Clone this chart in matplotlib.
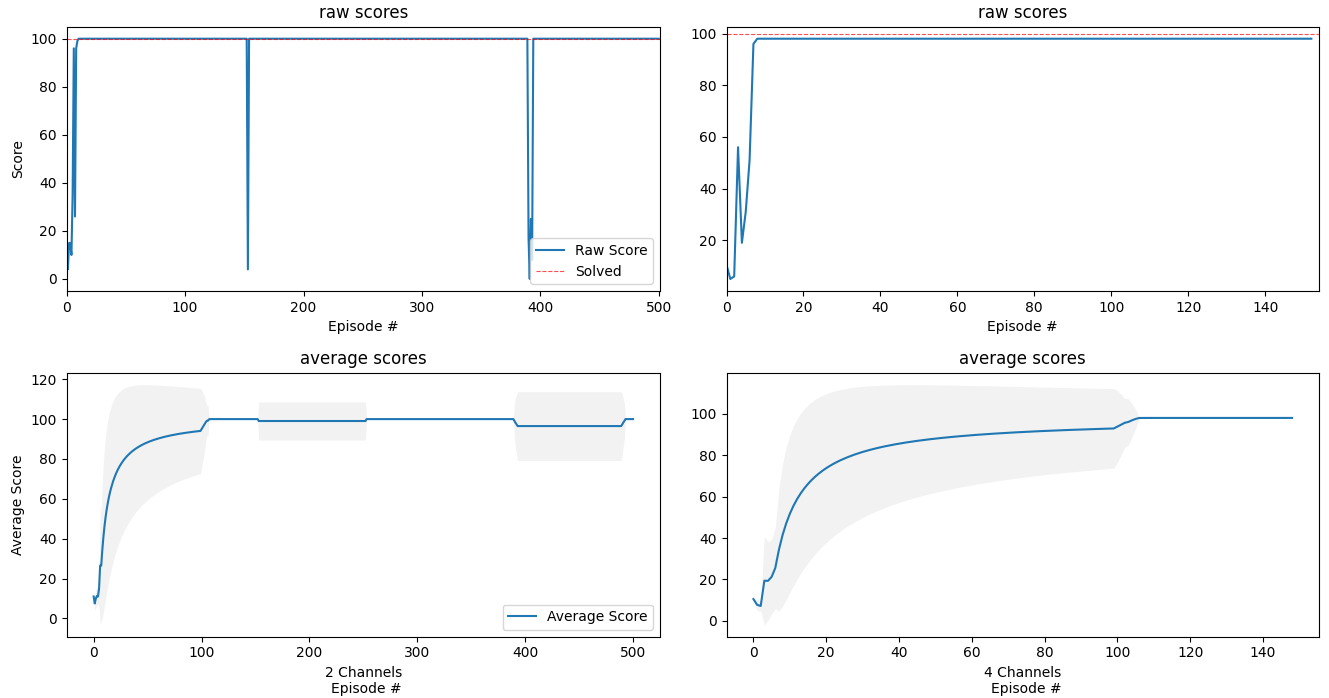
import numpy as np
import pandas as pd
import matplotlib
matplotlib.use("Agg")
import matplotlib.pyplot as plt

# ---------------- data ----------------
# 2-channel run: raw scores per episode (501 episodes, 0..500)
n_episodes_2ch = 501
early_scores_2ch = [11, 4, 15, 15, 10, 35, 96, 26, 96, 99]   # episodes 0..9
dip_episodes_2ch = [153, 390, 391, 392, 393]
dip_scores_2ch = [4, 17, 0, 25, 8]
plateau_2ch = 100

# 4-channel run: raw scores per episode
n_episodes_4ch = 153
n_avg_episodes_4ch = 149
early_scores_4ch = [10.5, 5, 6, 56, 19, 31, 51, 96, 98]        # episodes 0..8
plateau_4ch = 98

solved_score = 100
window = 100

raw_2ch = np.full(n_episodes_2ch, float(plateau_2ch))
raw_2ch[:len(early_scores_2ch)] = early_scores_2ch
raw_2ch[dip_episodes_2ch] = dip_scores_2ch

raw_4ch = np.full(n_episodes_4ch, float(plateau_4ch))
raw_4ch[:len(early_scores_4ch)] = early_scores_4ch


def rolling_stats(scores):
    s = pd.Series(scores)
    r = s.rolling(window, min_periods=1)
    return r.mean().values, r.std(ddof=0).fillna(0).values


avg_2ch, std_2ch = rolling_stats(raw_2ch)
avg_4ch, std_4ch = rolling_stats(raw_4ch[:n_avg_episodes_4ch])

# ---------------- figure ----------------
W, H = 1329, 698
fig = plt.figure(figsize=(W / 100, H / 100), dpi=100)


def rect(l, t, r, b):
    return [l / W, (H - b) / H, (r - l) / W, (b - t) / H]


ax1 = fig.add_axes(rect(66.7, 26.7, 660, 291))
ax2 = fig.add_axes(rect(726.5, 26.7, 1319, 291))
ax3 = fig.add_axes(rect(66.7, 372.7, 660, 636.7))
ax4 = fig.add_axes(rect(726.5, 372.7, 1319, 636.7))

blue = "#1f77b4"

# top-left
x2 = np.arange(n_episodes_2ch)
ax1.plot(x2, raw_2ch, color=blue, label="Raw Score")
ax1.axhline(solved_score, color="red", linestyle="--", linewidth=0.8, alpha=0.7, label="Solved")
ax1.set_xlim(0, 501)
ax1.set_title("raw scores")
ax1.set_ylabel("Score")
ax1.set_xlabel("Episode #")
ax1.legend(loc="lower right")

# top-right
x4 = np.arange(n_episodes_4ch)
ax2.plot(x4, raw_4ch, color=blue)
ax2.axhline(solved_score, color="red", linestyle="--", linewidth=0.8, alpha=0.7)
ax2.set_xlim(0, 154)
ax2.set_title("raw scores")
ax2.set_xlabel("Episode #")

# bottom-left
ax3.plot(x2, avg_2ch, color=blue, label="Average Score")
ax3.fill_between(x2, avg_2ch - std_2ch, avg_2ch + std_2ch, color="gray", alpha=0.1, linewidth=0)
ax3.set_title("average scores")
ax3.set_ylabel("Average Score")
ax3.set_xlabel("2 Channels\nEpisode #", multialignment="right")
ax3.legend(loc="lower right")

# bottom-right
xa4 = np.arange(n_avg_episodes_4ch)
ax4.plot(xa4, avg_4ch, color=blue)
ax4.fill_between(xa4, avg_4ch - std_4ch, avg_4ch + std_4ch, color="gray", alpha=0.1, linewidth=0)
ax4.set_title("average scores")
ax4.set_xlabel("4 Channels\nEpisode #", multialignment="right")

fig.savefig("out.png", dpi=100)
